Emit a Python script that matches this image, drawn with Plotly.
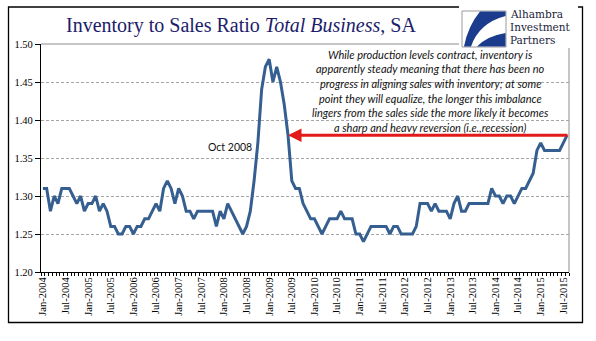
import plotly.graph_objects as go

# ---------------- data (Total Business inventory/sales ratio, SA) ----------------
ratio_2004 = [1.31, 1.31, 1.28, 1.30, 1.29, 1.31, 1.31, 1.31, 1.30, 1.29, 1.30, 1.28]
ratio_2005 = [1.29, 1.29, 1.30, 1.28, 1.29, 1.28, 1.26, 1.26, 1.25, 1.25, 1.26, 1.26]
ratio_2006 = [1.25, 1.26, 1.26, 1.27, 1.27, 1.28, 1.29, 1.28, 1.31, 1.32, 1.31, 1.29]
ratio_2007 = [1.31, 1.30, 1.28, 1.28, 1.27, 1.28, 1.28, 1.28, 1.28, 1.28, 1.26, 1.28]
ratio_2008 = [1.27, 1.29, 1.28, 1.27, 1.26, 1.25, 1.26, 1.28, 1.32, 1.37, 1.44, 1.47]
ratio_2009 = [1.48, 1.45, 1.47, 1.45, 1.42, 1.38, 1.32, 1.31, 1.31, 1.29, 1.28, 1.27]
ratio_2010 = [1.27, 1.26, 1.25, 1.26, 1.27, 1.27, 1.27, 1.28, 1.27, 1.27, 1.27, 1.25]
ratio_2011 = [1.25, 1.24, 1.25, 1.26, 1.26, 1.26, 1.26, 1.26, 1.25, 1.26, 1.26, 1.25]
ratio_2012 = [1.25, 1.25, 1.25, 1.26, 1.29, 1.29, 1.29, 1.28, 1.29, 1.28, 1.28, 1.28]
ratio_2013 = [1.27, 1.29, 1.30, 1.28, 1.28, 1.29, 1.29, 1.29, 1.29, 1.29, 1.29, 1.31]
ratio_2014 = [1.30, 1.30, 1.29, 1.30, 1.30, 1.29, 1.30, 1.31, 1.31, 1.32, 1.33, 1.36]
ratio_2015 = [1.37, 1.36, 1.36, 1.36, 1.36, 1.36, 1.37, 1.38]

years = list(range(2004, 2016))
month_names = ["Jan", "Feb", "Mar", "Apr", "May", "Jun",
               "Jul", "Aug", "Sep", "Oct", "Nov", "Dec"]

tick_labels = ["Jan-2004", "Jul-2004", "Jan-2005", "Jul-2005", "Jan-2006", "Jul-2006",
               "Jan-2007", "Jul-2007", "Jan-2008", "Jul-2008", "Jan-2009", "Jul-2009",
               "Jan-2010", "Jul-2010", "Jan-2011", "Jul-2011", "Jan-2012", "Jul-2012",
               "Jan-2013", "Jul-2013", "Jan-2014", "Jul-2014", "Jan-2015", "Jul-2015"]

title_plain = "Inventory to Sales Ratio "
title_italic = "Total Business"
title_tail = ", SA"
note_lines = [
    "While production levels contract, inventory is",
    "apparently steady meaning that there has been no",
    "progress in aligning sales with inventory; at some",
    "point they will equalize, the longer this imbalance",
    "lingers from the sales side the more likely it becomes",
    "a sharp and heavy reversion (i.e.,recession)",
]
event_label = "Oct 2008"
logo_lines = ["Alhambra", "Investment", "Partners"]

# ---------------- build series ----------------
values = (ratio_2004 + ratio_2005 + ratio_2006 + ratio_2007 + ratio_2008 + ratio_2009 +
          ratio_2010 + ratio_2011 + ratio_2012 + ratio_2013 + ratio_2014 + ratio_2015)
categories = []
for y in years:
    for m in month_names:
        categories.append(f"{m}-{y}")
categories = categories[:len(values)]
n = len(values)
idx = list(range(n))
label_idx = [categories.index(t) for t in tick_labels]

# ---------------- geometry ----------------
W, H = 596, 341
ML, MR, MT, MB = 41, 27, 44, 69
PW, PH = W - ML - MR, H - MT - MB


def xp(px):
    return (px - ML) / PW


def yp(py):
    return 1 - (py - MT) / PH


NAVY = "#1c1c6b"
LINE = "#365F91"
RED = "#E21A1A"
SERIF = "Liberation Serif, Times New Roman, serif"
LOGO_SERIF = "DejaVu Serif, serif"
SANS = "Lato, Open Sans, sans-serif"

fig = go.Figure()
fig.add_trace(go.Scatter(
    x=idx, y=values, mode="lines",
    line=dict(color=LINE, width=3),
    hovertext=categories, showlegend=False,
))

# ---------------- annotations ----------------
ann = []
# title
ann.append(dict(xref="paper", yref="paper", x=xp(241), y=yp(25),
                text=f"{title_plain}<i>{title_italic}</i>{title_tail}",
                showarrow=False, xanchor="center", yanchor="middle",
                font=dict(family=SERIF, size=20, color=NAVY)))
# commentary
for k, line in enumerate(note_lines):
    ann.append(dict(xref="paper", yref="paper", x=xp(430), y=yp(54 + 14.7 * k),
                    text=f"<i>{line}</i>", showarrow=False,
                    xanchor="center", yanchor="middle",
                    font=dict(family=SANS, size=11, color="#111111")))

# red arrow: from right edge at latest value back to where the series crossed it after the peak
level = values[-1]
peak_i = values.index(max(values))
tip_x = None
for i in range(peak_i, n - 1):
    if values[i] >= level >= values[i + 1]:
        tip_x = i + (values[i] - level) / (values[i] - values[i + 1])
        break
ann.append(dict(x=tip_x, y=level, ax=n - 0.5, ay=level, xref="x", yref="y",
                axref="x", ayref="y", text="", showarrow=True,
                arrowhead=2, arrowsize=0.9, arrowwidth=3, arrowcolor=RED, standoff=0))

# Oct 2008 label
ev = categories.index("Oct-2008")
ann.append(dict(x=ev, y=values[ev], xref="x", yref="y", text=event_label,
                showarrow=False, xanchor="right", yanchor="middle",
                xshift=-4, yshift=-4,
                font=dict(family=SANS, size=10.5, color="#111111")))

# logo text
for t, py in zip(logo_lines, [14.0, 27.0, 40.0]):
    ann.append(dict(xref="paper", yref="paper", x=xp(508), y=yp(py), text=t,
                    showarrow=False, xanchor="left", yanchor="middle",
                    font=dict(family=LOGO_SERIF, size=10.5, color="#1b1b3a")))

# ---------------- shapes ----------------
shapes = []
# outer frame
shapes.append(dict(type="rect", xref="paper", yref="paper",
                   x0=xp(8.5), x1=xp(582.5), y0=yp(322.5), y1=yp(7),
                   line=dict(color="black", width=1.3), fillcolor="rgba(0,0,0,0)",
                   layer="above"))
# plot area top & right border (gray)
shapes.append(dict(type="line", xref="paper", yref="paper", x0=0, x1=1, y0=1, y1=1,
                   line=dict(color="#8C8C8C", width=1), layer="below"))
shapes.append(dict(type="line", xref="paper", yref="paper", x0=1, x1=1, y0=0, y1=1,
                   line=dict(color="#8C8C8C", width=1), layer="below"))
# logo background
shapes.append(dict(type="rect", xref="paper", yref="paper",
                   x0=xp(459), x1=xp(578), y0=yp(48), y1=yp(2),
                   line=dict(width=0), fillcolor="white", layer="above"))
# logo square
shapes.append(dict(type="rect", xref="paper", yref="paper",
                   x0=xp(462), x1=xp(506), y0=yp(47), y1=yp(11),
                   line=dict(color="#9A9A9A", width=1), fillcolor="white", layer="above"))


def pth(cmds):
    out = []
    for c in cmds:
        if isinstance(c, str):
            out.append(c)
        else:
            out.append(f"{xp(c[0]):.5f},{yp(c[1]):.5f}")
    return " ".join(out)


swoosh = pth(["M", (480, 11.5), "L", (505.5, 11.5), "L", (505.5, 16),
              "Q", (479, 23), (471, 46.5), "L", (464, 46.5),
              "Q", (468, 26), (480, 11.5), "Z"])
base = pth(["M", (477, 46.5), "Q", (487, 36), (505.5, 33), "L", (505.5, 46.5), "Z"])
shapes.append(dict(type="path", xref="paper", yref="paper", path=swoosh,
                   line=dict(width=0), fillcolor="#1B3C8C", layer="above"))
shapes.append(dict(type="path", xref="paper", yref="paper", path=base,
                   line=dict(width=0), fillcolor="#1B3C8C", layer="above"))

fig.update_layout(
    width=W, height=H,
    margin=dict(l=ML, r=MR, t=MT, b=MB, pad=0),
    paper_bgcolor="white", plot_bgcolor="white",
    showlegend=False,
    annotations=ann, shapes=shapes,
    xaxis=dict(
        range=[-0.5, n - 0.5], tickmode="array", tickvals=label_idx, ticktext=tick_labels,
        tickangle=-90, ticks="", showline=True, linecolor="black", linewidth=1.3,
        showgrid=False, zeroline=False,
        tickfont=dict(family=SERIF, size=10.5, color="black"),
        minor=dict(tickmode="array", tickvals=[i - 0.5 for i in range(n + 1)],
                   ticks="outside", ticklen=3, tickcolor="black", tickwidth=1,
                   showgrid=False),
    ),
    yaxis=dict(
        range=[1.20, 1.50], tickmode="linear", tick0=1.20, dtick=0.05, tickformat=".2f",
        ticks="outside", ticklen=5, tickcolor="black", tickwidth=1,
        showline=True, linecolor="black", linewidth=1.3,
        showgrid=True, gridcolor="#A6A6A6", gridwidth=1, griddash="3px,2px",
        zeroline=False,
        tickfont=dict(family=SERIF, size=10.5, color="black"),
    ),
)

fig.write_html("out.html")
